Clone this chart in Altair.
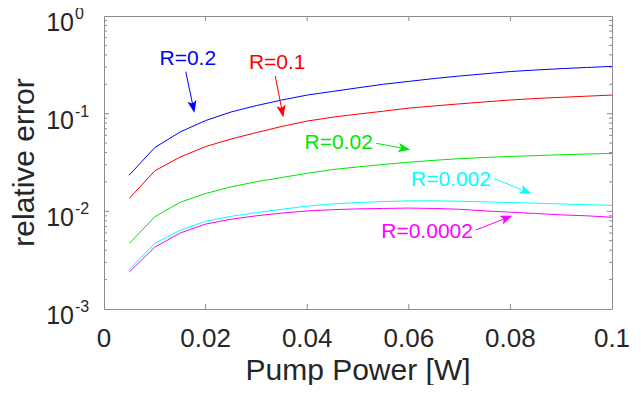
import math
import altair as alt
import pandas as pd

# ---------------- data ----------------
power = [0.005, 0.01, 0.015, 0.02, 0.025, 0.03, 0.035, 0.04, 0.045, 0.05,
         0.055, 0.06, 0.065, 0.07, 0.075, 0.08, 0.085, 0.09, 0.095, 0.1]

err_R0_2 = [0.0236, 0.045, 0.065, 0.085, 0.104, 0.121, 0.138, 0.155, 0.169, 0.184,
            0.200, 0.214, 0.229, 0.243, 0.256, 0.270, 0.280, 0.289, 0.297, 0.305]
err_R0_1 = [0.0136, 0.026, 0.036, 0.046, 0.055, 0.064, 0.074, 0.084, 0.092, 0.099,
            0.106, 0.114, 0.120, 0.126, 0.132, 0.138, 0.143, 0.147, 0.151, 0.155]
err_R0_02 = [0.0047, 0.0088, 0.0124, 0.0152, 0.0178, 0.0201, 0.0222, 0.0245, 0.0268, 0.0285,
             0.0302, 0.0318, 0.0333, 0.0346, 0.0356, 0.0365, 0.0372, 0.0380, 0.0386, 0.0392]
err_R0_002 = [0.00255, 0.0047, 0.0064, 0.0079, 0.0089, 0.0097, 0.0105, 0.0113, 0.0119, 0.0123,
              0.0126, 0.0128, 0.0128, 0.0127, 0.0125, 0.0123, 0.0121, 0.0119, 0.0117, 0.0115]
err_R0_0002 = [0.0024, 0.0043, 0.0060, 0.0074, 0.0083, 0.0090, 0.0096, 0.0101, 0.0104, 0.0106,
               0.0107, 0.0108, 0.0107, 0.0105, 0.0101, 0.0098, 0.0095, 0.0092, 0.0090, 0.0087]

series_labels = ["R=0.2", "R=0.1", "R=0.02", "R=0.002", "R=0.0002"]
series_colors = ["#0000ff", "#ff0000", "#00e600", "#00ffff", "#ff00ff"]
series_values = [err_R0_2, err_R0_1, err_R0_02, err_R0_002, err_R0_0002]

# annotation anchors (data coordinates)
ann_text_x = [0.0165, 0.0341, 0.0462, 0.0683, 0.0636]
ann_text_y = [0.363, 0.333, 0.0497, 0.0209, 0.00614]
arrow_x0 = [0.0161, 0.0337, 0.0536, 0.0768, 0.0732]
arrow_y0 = [0.269, 0.243, 0.0497, 0.0217, 0.00644]
arrow_x1 = [0.0178, 0.0353, 0.0603, 0.0842, 0.0804]
arrow_y1 = [0.102, 0.0918, 0.0427, 0.0151, 0.00902]

x_tick_values = [0, 0.02, 0.04, 0.06, 0.08, 0.1]
x_tick_labels = ["0", "0.02", "0.04", "0.06", "0.08", "0.1"]
y_tick_values = [1, 0.1, 0.01, 0.001]
y_tick_exponents = ["0", "-1", "-2", "-3"]

# ---------------- layout / style ----------------
W, H = 508, 293
FONT = "Liberation Sans"
TXT = "#262626"
FRAME = "#8c8c8c"
XMAX = 0.1

xs = alt.Scale(domain=[0, XMAX], nice=False, zero=False)
ys = alt.Scale(type="log", domain=[0.001, 1], nice=False)
cs = alt.Scale(domain=series_labels, range=series_colors)


def to_px(x, y):
    return x / XMAX * W, -math.log10(y) / 3 * H


def from_px(px, py):
    return px / W * XMAX, 10 ** (-py / H * 3)


rows = []
for lab, vals in zip(series_labels, series_values):
    for p, v in zip(power, vals):
        rows.append({"P": p, "err": v, "R": lab})
curves_df = pd.DataFrame(rows)

ann_df = pd.DataFrame({"x": ann_text_x, "y": ann_text_y, "R": series_labels})

HEAD_R = 6.5  # px from symbol centre to tip
arrow_rows = []
for lab, x0, y0, x1, y1 in zip(series_labels, arrow_x0, arrow_y0, arrow_x1, arrow_y1):
    sx, sy = to_px(x0, y0)
    tx, ty = to_px(x1, y1)
    dx, dy = tx - sx, ty - sy
    L = math.hypot(dx, dy)
    ux, uy = dx / L, dy / L
    cx, cy = tx - ux * HEAD_R, ty - uy * HEAD_R
    hx, hy = from_px(cx, cy)
    ang = math.degrees(math.atan2(ux, -uy)) % 360
    arrow_rows.append({"x0": x0, "y0": y0, "xe": hx, "ye": hy, "ang": ang, "R": lab})
arrow_df = pd.DataFrame(arrow_rows)

x_ticks_df = pd.DataFrame({"x": [0.02, 0.04, 0.06, 0.08]})
y_major_df = pd.DataFrame({"y": [0.1, 0.01]})
y_minor_df = pd.DataFrame({"y": [k * 10 ** e for e in (-3, -2, -1) for k in range(2, 10)]})
x_lab_df = pd.DataFrame({"x": x_tick_values, "t": x_tick_labels})
y_lab_df = pd.DataFrame({"y": y_tick_values, "e": y_tick_exponents})

X = lambda f: alt.X(f, type="quantitative", scale=xs, axis=None)
Y = lambda f: alt.Y(f, type="quantitative", scale=ys, axis=None)
C = alt.Color("R:N", scale=cs, legend=None)

curves = alt.Chart(curves_df).mark_line(strokeWidth=1, clip=True).encode(
    x=X("P"), y=Y("err"), color=C, detail="R:N")

ann_text = alt.Chart(ann_df).mark_text(font=FONT, fontSize=21, baseline="middle", align="center").encode(
    x=X("x"), y=Y("y"), text="R:N", color=C)

arrow_lines = alt.Chart(arrow_df).mark_rule(strokeWidth=1).encode(
    x=X("x0"), y=Y("y0"), x2="xe", y2="ye", color=C)

head_shape = "M0,-1L0.7,0.85L0,0.45L-0.7,0.85Z"
arrow_heads = alt.Chart(arrow_df).mark_point(shape=head_shape, filled=True, size=(2 * HEAD_R) ** 2,
                                             opacity=1, strokeWidth=0).encode(
    x=X("xe"), y=Y("ye"), angle=alt.Angle("ang:Q", scale=None), color=C)

xt_bottom = alt.Chart(x_ticks_df).mark_rule(color=FRAME, strokeWidth=1).encode(
    x=X("x"), y=alt.value(H), y2=alt.value(H - 5))
xt_top = alt.Chart(x_ticks_df).mark_rule(color=FRAME, strokeWidth=1).encode(
    x=X("x"), y=alt.value(0), y2=alt.value(5))
yt_left = alt.Chart(y_major_df).mark_rule(color=FRAME, strokeWidth=1).encode(
    y=Y("y"), x=alt.value(0), x2=alt.value(5))
yt_right = alt.Chart(y_major_df).mark_rule(color=FRAME, strokeWidth=1).encode(
    y=Y("y"), x=alt.value(W), x2=alt.value(W - 5))
ym_left = alt.Chart(y_minor_df).mark_rule(color=FRAME, strokeWidth=1).encode(
    y=Y("y"), x=alt.value(0), x2=alt.value(3))
ym_right = alt.Chart(y_minor_df).mark_rule(color=FRAME, strokeWidth=1).encode(
    y=Y("y"), x=alt.value(W), x2=alt.value(W - 3))

x_labels = alt.Chart(x_lab_df).mark_text(font=FONT, fontSize=26, color=TXT, align="center",
                                         baseline="alphabetic", dy=38).encode(
    x=X("x"), y=alt.value(H), text="t:N")
y_labels_base = alt.Chart(y_lab_df).mark_text(font=FONT, fontSize=25, color=TXT, align="right",
                                              baseline="alphabetic", dy=15).encode(
    y=Y("y"), x=alt.value(-30), text=alt.value("10"))
y_labels_exp = alt.Chart(y_lab_df).mark_text(font=FONT, fontSize=16, color=TXT, align="left",
                                             baseline="alphabetic", dy=3, dx=1).encode(
    y=Y("y"), x=alt.value(-30), text="e:N")

x_title = alt.Chart(pd.DataFrame({"t": ["Pump Power [W]"]})).mark_text(
    font=FONT, fontSize=30, color=TXT, align="center", baseline="alphabetic", dy=71).encode(
    x=alt.value(W / 2), y=alt.value(H), text="t:N")
y_title = alt.Chart(pd.DataFrame({"t": ["relative error"]})).mark_text(
    font=FONT, fontSize=30, color=TXT, align="center", baseline="alphabetic", angle=270).encode(
    x=alt.value(-70), y=alt.value(H / 2), text="t:N")

chart = alt.layer(
    xt_bottom, xt_top, yt_left, yt_right, ym_left, ym_right,
    curves, arrow_lines, arrow_heads, ann_text,
    x_labels, y_labels_base, y_labels_exp, x_title, y_title,
).properties(
    width=W, height=H,
    autosize=alt.AutoSizeParams(type="none"),
    padding={"left": 96, "top": 8, "right": 20, "bottom": 76},
    background="white",
).configure_view(stroke=FRAME, strokeWidth=1)

chart.save("out.html", embed_options={"renderer": "svg", "actions": False})
